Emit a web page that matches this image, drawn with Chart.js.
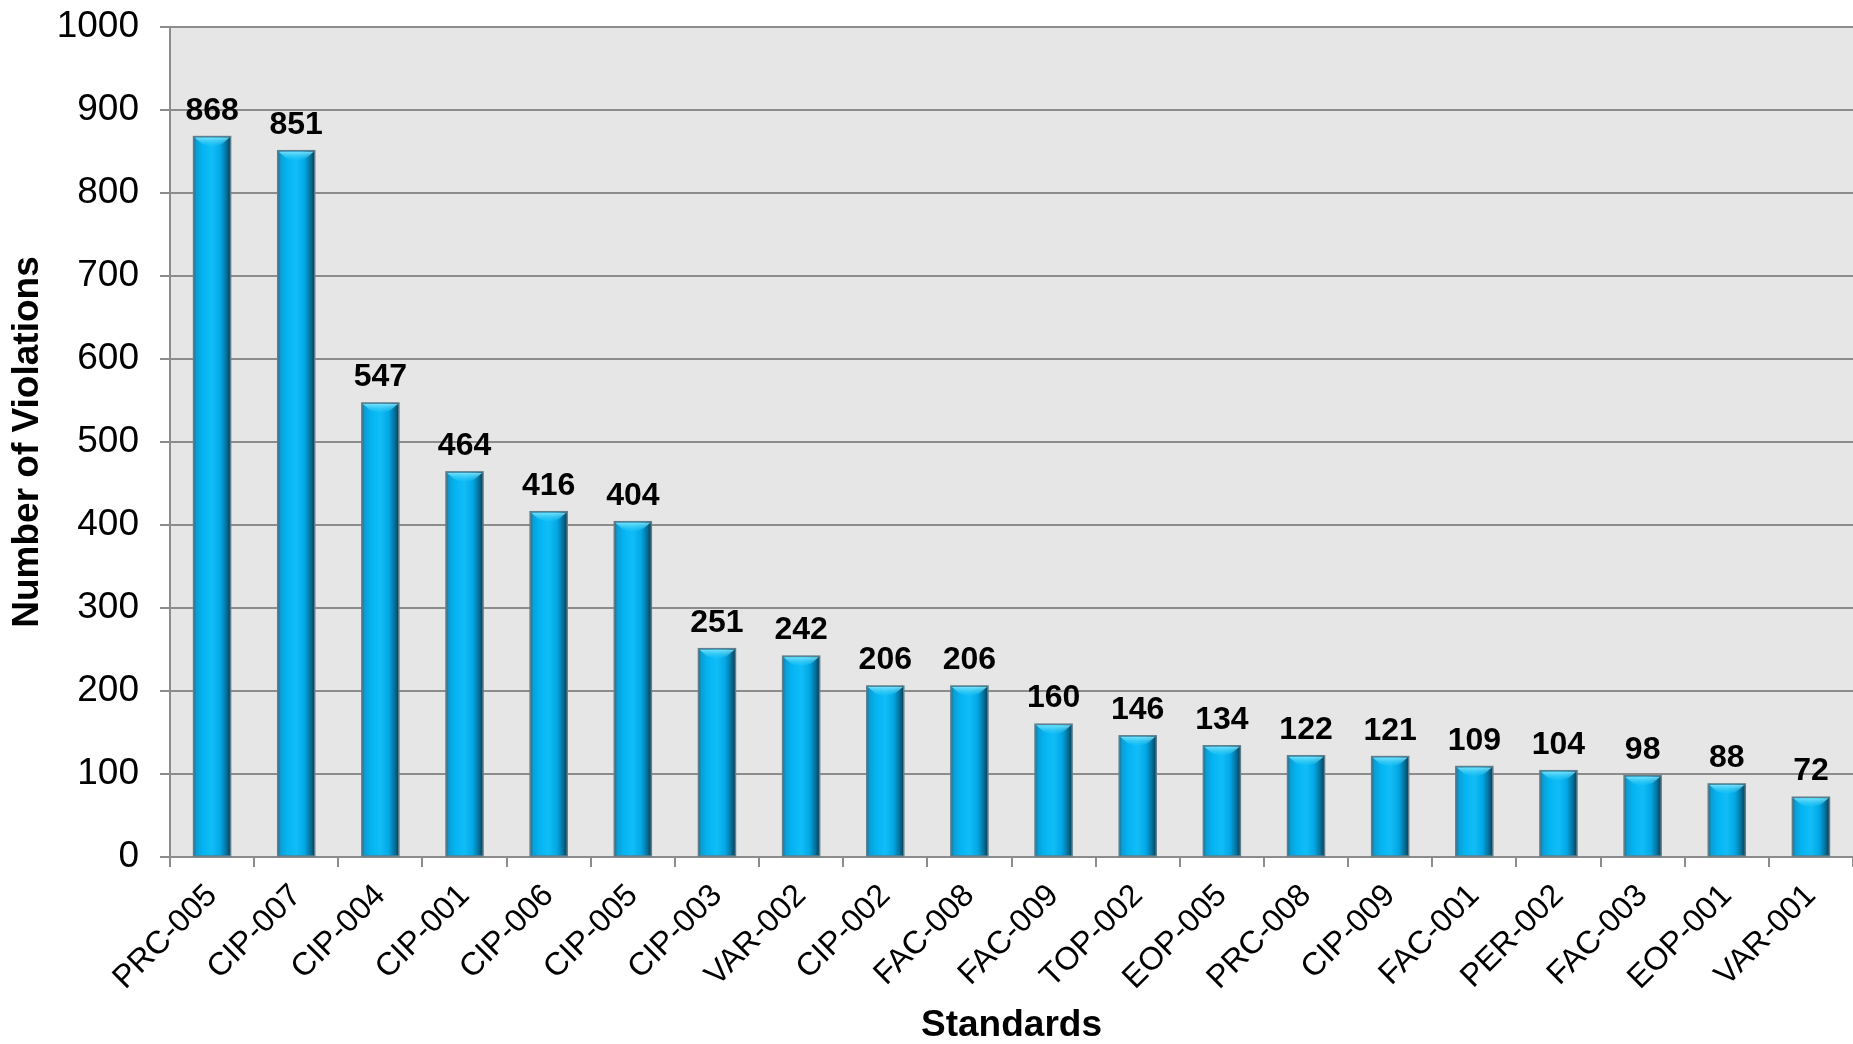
<!DOCTYPE html>
<html>
<head>
<meta charset="utf-8">
<title>Number of Violations by Standard</title>
<script src="https://cdn.jsdelivr.net/npm/chart.js@4.4.1/dist/chart.umd.min.js"></script>
<style>
  html, body { margin: 0; padding: 0; background: #ffffff; }
  #wrap { width: 1853px; height: 1044px; }
</style>
</head>
<body>
<div id="wrap"><canvas id="chart" width="1853" height="1044"></canvas></div>
<script>
// Reliability standards and their violation counts
const standards = [
  'PRC-005', 'CIP-007', 'CIP-004', 'CIP-001', 'CIP-006', 'CIP-005', 'CIP-003',
  'VAR-002', 'CIP-002', 'FAC-008', 'FAC-009', 'TOP-002', 'EOP-005', 'PRC-008',
  'CIP-009', 'FAC-001', 'PER-002', 'FAC-003', 'EOP-001', 'VAR-001'
];
const violations = [
  868, 851, 547, 464, 416, 404, 251,
  242, 206, 206, 160, 146, 134, 122,
  121, 109, 104, 98, 88, 72
];
const yAxisMin = 0;
const yAxisMax = 1000;
const yAxisStep = 100;

const FONT = '"Liberation Sans", Arial, Helvetica, sans-serif';

// Light grey fill behind the plot area
const plotBackground = {
  id: 'plotBackground',
  beforeDraw(chart) {
    const { ctx, chartArea: a } = chart;
    ctx.save();
    ctx.fillStyle = '#e6e6e6';
    ctx.fillRect(a.left, a.top, a.right - a.left, a.bottom - a.top);
    ctx.restore();
  }
};

// Shaded cylinder-style bars with a bevelled top, plus value labels
const bevelBars = {
  id: 'bevelBars',
  afterDatasetsDraw(chart) {
    const { ctx } = chart;
    const meta = chart.getDatasetMeta(0);
    const data = chart.data.datasets[0].data;
    ctx.save();
    meta.data.forEach((bar, i) => {
      const { x, y, base, width } = bar.getProps(['x', 'y', 'base', 'width'], true);
      const l = x - width / 2, r = x + width / 2;
      const top = y, bottom = base;

      // body
      const g = ctx.createLinearGradient(l, 0, r, 0);
      g.addColorStop(0.00, '#1d6f90');
      g.addColorStop(0.08, '#0a9fd6');
      g.addColorStop(0.25, '#04b4f2');
      g.addColorStop(0.50, '#10bdf7');
      g.addColorStop(0.72, '#03a8e6');
      g.addColorStop(0.88, '#04739e');
      g.addColorStop(1.00, '#0b3c52');
      ctx.fillStyle = g;
      ctx.fillRect(l, top, width, bottom - top);

      // bevelled top cap
      const capH = Math.min(10, (bottom - top) / 2);
      const cg = ctx.createLinearGradient(0, top, 0, top + capH);
      cg.addColorStop(0, '#86e8fd');
      cg.addColorStop(1, 'rgba(40,200,245,0.15)');
      ctx.beginPath();
      ctx.moveTo(l + 1, top + 1);
      ctx.lineTo(r - 1, top + 1);
      ctx.lineTo(r - 8, top + capH * 0.7);
      ctx.quadraticCurveTo(x, top + capH * 1.25, l + 8, top + capH * 0.7);
      ctx.closePath();
      ctx.fillStyle = cg;
      ctx.fill();

      // outline
      ctx.lineWidth = 1.5;
      ctx.strokeStyle = '#5f7f8c';
      ctx.strokeRect(l, top, width, bottom - top);

      // value label
      ctx.fillStyle = '#000000';
      ctx.font = 'bold 32px ' + FONT;
      ctx.textAlign = 'center';
      ctx.textBaseline = 'alphabetic';
      ctx.fillText(String(data[i]), x, top - 17);
    });
    ctx.restore();
  }
};

new Chart(document.getElementById('chart'), {
  type: 'bar',
  data: {
    labels: standards,
    datasets: [{
      label: 'Number of Violations',
      data: violations,
      backgroundColor: 'rgba(0,0,0,0)',
      borderWidth: 0,
      categoryPercentage: 1.0,
      barPercentage: 0.44
    }]
  },
  options: {
    responsive: false,
    animation: false,
    devicePixelRatio: 1,
    layout: { padding: { top: 27, right: 0, bottom: 0, left: 0 } },
    plugins: {
      legend: { display: false },
      tooltip: { enabled: false }
    },
    scales: {
      x: {
        grid: {
          display: true,
          drawOnChartArea: false,
          offset: true,
          color: '#8c8c8c',
          lineWidth: 2,
          tickLength: 10
        },
        border: { display: true, color: '#8c8c8c', width: 2 },
        ticks: {
          color: '#000000',
          font: { family: FONT, size: 32 },
          maxRotation: 45,
          minRotation: 45,
          autoSkip: false,
          padding: 10
        },
        title: {
          display: true,
          text: 'Standards',
          color: '#000000',
          font: { family: FONT, size: 37, weight: 'bold', lineHeight: 1.0 },
          padding: { top: 0, bottom: 0 }
        },
        afterFit(scale) {
          scale.height = 187;
          scale.paddingLeft = 0;
          scale.paddingRight = 0;
        }
      },
      y: {
        min: yAxisMin,
        max: yAxisMax,
        grid: {
          color: '#8c8c8c',
          lineWidth: 2,
          tickLength: 10
        },
        border: { display: true, color: '#8c8c8c', width: 2 },
        ticks: {
          stepSize: yAxisStep,
          color: '#000000',
          font: { family: FONT, size: 37 },
          padding: 21,
          callback: (v) => String(v)
        },
        title: {
          display: true,
          text: 'Number of Violations',
          color: '#000000',
          font: { family: FONT, size: 37, weight: 'bold', lineHeight: 1.0 },
          padding: { top: 9, bottom: 0 }
        },
        afterFit(scale) {
          scale.width = 170;
          scale.paddingTop = 0;
          scale.paddingBottom = 0;
        }
      }
    }
  },
  plugins: [plotBackground, bevelBars]
});
</script>
</body>
</html>
